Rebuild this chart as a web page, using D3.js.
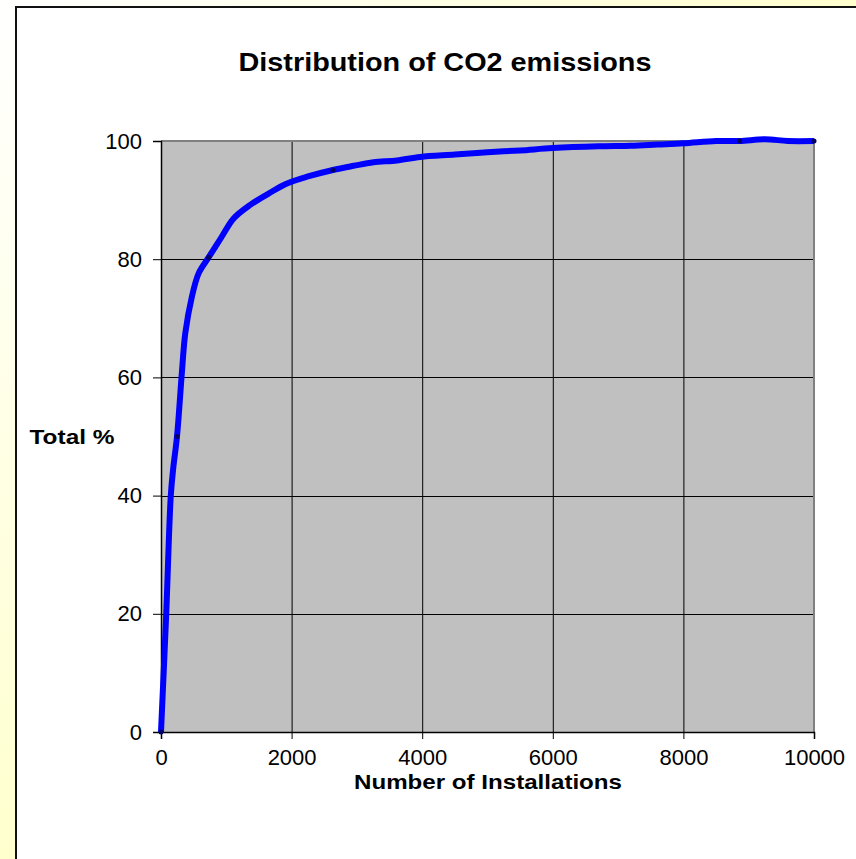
<!DOCTYPE html>
<html>
<head>
<meta charset="utf-8">
<script src="https://cdn.jsdelivr.net/npm/d3@7/dist/d3.min.js"></script>
<style>
html,body{margin:0;padding:0;background:#fff;}
svg{display:block;}
text{font-family:"Liberation Sans",Arial,sans-serif;fill:#000;}
</style>
</head>
<body>
<script>
const installations = [0, 80, 150, 188, 245, 321, 372, 470, 576, 729, 930, 1112, 1367, 1647, 1903, 2250, 2633, 2950, 3254, 3612, 3969, 4500, 5000, 5500, 6000, 6700, 7200, 7600, 8000, 8500, 8860, 9250, 9600, 10000];
const totalPct = [0, 20, 40, 44.7, 50, 61, 67.5, 73.5, 77.6, 80.3, 83.8, 86.9, 89.2, 91.1, 92.7, 94, 95.1, 95.8, 96.4, 96.7, 97.3, 97.7, 98.1, 98.4, 98.8, 99.1, 99.2, 99.4, 99.6, 100, 100, 100.3, 100, 100];
const markedPoints = [0, 245, 729, 2633, 8860, 10000];
const xTicks = [0, 2000, 4000, 6000, 8000, 10000];
const yTicks = [0, 20, 40, 60, 80, 100];
const titleText = "Distribution of CO2 emissions";
const xTitle = "Number of Installations";
const yTitle = "Total %";

const W = 856, H = 859;
const svg = d3.select("body").append("svg").attr("width", W).attr("height", H);
const defs = svg.append("defs");
const grad = defs.append("radialGradient").attr("id","bg").attr("cx","0").attr("cy","0").attr("r","1.2").attr("gradientUnits","objectBoundingBox");
grad.append("stop").attr("offset","0%").attr("stop-color","#ffffff");
grad.append("stop").attr("offset","100%").attr("stop-color","#ffffc4");
svg.append("rect").attr("width",W).attr("height",H).attr("fill","url(#bg)");

// chart area
svg.append("rect").attr("x",16).attr("y",7).attr("width",W).attr("height",H).attr("fill","#fff");
svg.append("path").attr("d",`M16,${H+2}V7H${W+2}`).attr("fill","none").attr("stroke","#111").attr("stroke-width",2);

const x = d3.scaleLinear().domain([0,10000]).range([161,814]);
const y = d3.scaleLinear().domain([0,100]).range([732,141]);

const g = svg.append("g");
g.append("rect").attr("x",x(0)).attr("y",y(100)).attr("width",x(10000)-x(0)).attr("height",y(0)-y(100)).attr("fill","#c0c0c0");

// gridlines
g.selectAll(".gx").data(xTicks.slice(1,-1)).join("line")
  .attr("x1",d=>x(d)+0.5).attr("x2",d=>x(d)+0.5).attr("y1",y(100)).attr("y2",y(0))
  .attr("stroke","#000").attr("stroke-width",1);
g.selectAll(".gy").data(yTicks.slice(1,-1)).join("line")
  .attr("y1",d=>Math.round(y(d))+0.5).attr("y2",d=>Math.round(y(d))+0.5).attr("x1",x(0)).attr("x2",x(10000))
  .attr("stroke","#000").attr("stroke-width",1);
// top and right frame
g.append("path").attr("d",`M${x(0)},${y(100)}H${x(10000)}V${y(0)}`).attr("fill","none").attr("stroke","#808080").attr("stroke-width",2);

// axes
const xAxis = d3.axisBottom(x).tickValues(xTicks).tickSize(7).tickPadding(10).tickFormat(d3.format("d"));
const yAxis = d3.axisLeft(y).tickValues(yTicks).tickSize(8).tickPadding(11).tickFormat(d3.format("d"));
const ga = svg.append("g").attr("transform",`translate(0,${y(0)})`).call(xAxis);
const gb = svg.append("g").attr("transform",`translate(${x(0)},0)`).call(yAxis);
[ga,gb].forEach(a=>{
  a.selectAll("path").attr("stroke","#000").attr("stroke-width",1.5);
  a.selectAll("line").attr("stroke","#000");
  a.selectAll("text").style("font-size","22px").style("font-family","'Liberation Sans',Arial,sans-serif").attr("fill","#000");
});

// line
const pts = installations.map((v,i)=>[v,totalPct[i]]);
const line = d3.line().x(d=>x(d[0])).y(d=>y(d[1])).curve(d3.curveCatmullRom.alpha(0.5));
svg.append("path").datum(pts).attr("d",line).attr("fill","none").attr("stroke","#0000ff").attr("stroke-width",6).attr("stroke-linejoin","round");
svg.selectAll(".mk").data(pts.filter(p=>markedPoints.includes(p[0]))).join("circle")
  .attr("cx",d=>x(d[0])).attr("cy",d=>y(d[1])).attr("r",2.5).attr("fill","#000066");

// titles
svg.append("text").attr("x",445).attr("y",71).attr("text-anchor","middle").style("font-size","26px").style("font-weight","bold")
  .attr("textLength",413).attr("lengthAdjust","spacingAndGlyphs").text(titleText);
svg.append("text").attr("x",488).attr("y",789).attr("text-anchor","middle").style("font-size","21px").style("font-weight","bold")
  .attr("textLength",268).attr("lengthAdjust","spacingAndGlyphs").text(xTitle);
svg.append("text").attr("x",72).attr("y",444).attr("text-anchor","middle").style("font-size","21px").style("font-weight","bold")
  .attr("textLength",85).attr("lengthAdjust","spacingAndGlyphs").text(yTitle);
</script>
</body>
</html>
